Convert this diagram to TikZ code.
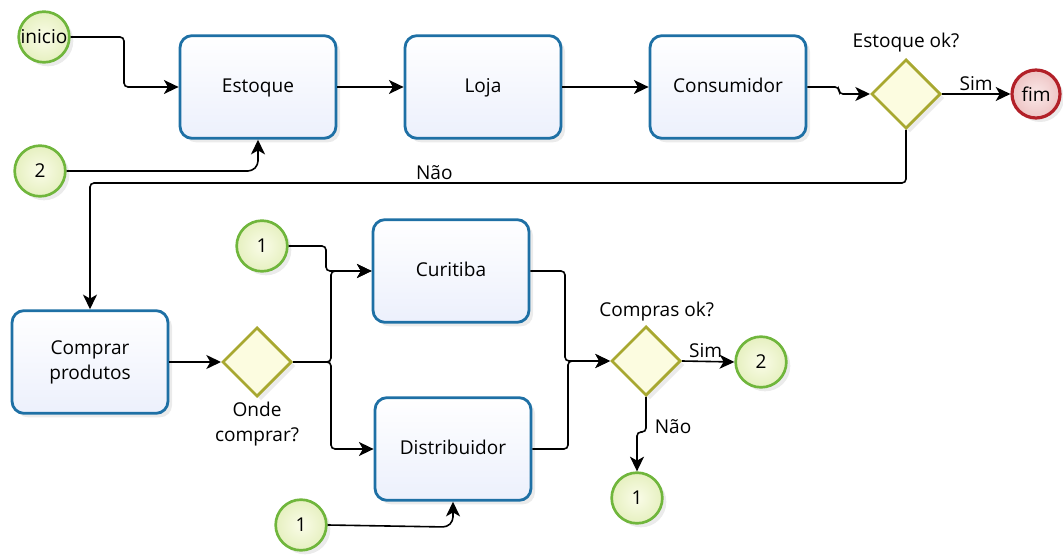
\documentclass[tikz,border=0pt]{standalone}
\usepackage{fontspec}
\setmainfont{Open Sans}
\usetikzlibrary{shapes.geometric,arrows.meta,shadows}
\definecolor{taskline}{RGB}{30,112,165}
\definecolor{taskfill}{RGB}{236,240,252}
\definecolor{evline}{RGB}{112,182,60}
\definecolor{evin}{RGB}{250,252,232}
\definecolor{evout}{RGB}{230,240,192}
\definecolor{gwline}{RGB}{168,168,48}
\definecolor{gwfill}{RGB}{252,252,224}
\definecolor{endline}{RGB}{178,32,40}
\definecolor{endin}{RGB}{250,232,232}
\definecolor{endout}{RGB}{238,196,196}
\begin{document}
\begin{tikzpicture}[x=0.75pt,y=-0.75pt,
  font=\fontsize{14.3}{18.5}\selectfont,
  softshadow/.style={drop shadow={opacity=0.16, shadow xshift=3pt, shadow yshift=-3pt}},
  task/.style={rectangle, rounded corners=9pt, draw=taskline, line width=2.1pt,
    minimum width=117pt, minimum height=77pt, align=center, text depth=0.25em,
    top color=white, bottom color=taskfill, softshadow},
  event/.style={circle, draw=evline, line width=2pt, minimum size=38pt, inner sep=0pt,
    inner color=evin, outer color=evout, softshadow},
  endevent/.style={circle, draw=endline, line width=2.4pt, minimum size=36pt, inner sep=0pt,
    inner color=endin, outer color=endout, softshadow},
  gateway/.style={diamond, draw=gwline, line width=2pt, minimum size=52pt, inner sep=0pt,
    aspect=1, fill=gwfill, softshadow},
  flow/.style={draw=black, line width=1.2pt, rounded corners=3pt,
    -{Stealth[length=11pt,width=10.5pt,inset=3pt]}},
  lbl/.style={inner sep=2pt}
]
\useasboundingbox (0,0) rectangle (1063,555);

% upper row
\node[event] (inicio) at (44,37) {inicio};
\node[task] (estoque) at (258,87) {Estoque};
\node[task] (loja) at (483,87) {Loja};
\node[task] (consumidor) at (728,87) {Consumidor};
\node[gateway, label={[lbl, yshift=2pt]above:Estoque ok?}] (gwestoque) at (906,94) {};
\node[endevent] (fim) at (1036,94) {fim};
\node[event] (doisA) at (40,171) {2};

% lower part
\node[task] (comprar) at (90,362) {Comprar\\produtos};
\node[gateway, label={[lbl, align=center, yshift=-1pt]below:Onde\\comprar?}] (gwonde) at (257,362) {};
\node[event] (umA) at (262,246) {1};
\node[task] (curitiba) at (451,271) {Curitiba};
\node[task] (distribuidor) at (453,449) {Distribuidor};
\node[event] (umC) at (301,525) {1};
\node[gateway, label={[lbl, xshift=8pt, yshift=1pt]above:Compras ok?}] (gwcompras) at (646,361) {};
\node[event] (doisB) at (761,362) {2};
\node[event] (umB) at (637,498) {1};

% flows of the upper row
\draw[flow] (inicio.east) -- (124,37) -- (124,87) -- (estoque.west);
\draw[flow] (estoque) -- (loja);
\draw[flow] (loja) -- (consumidor);
\draw[flow] (consumidor.east) -- (839,87) -- (839,94) -- (gwestoque.west);
\draw[flow] (gwestoque.east) -- node[lbl, above]{Sim} (fim.west);
\draw[flow] (doisA.east) -- (252,171) -- (258,165) -- (estoque.south);
\draw[flow] (gwestoque.south) -- (906,183) -- node[lbl, pos=0.578, above]{Não} (90,183) -- (comprar.north);

% flows of the lower part
\draw[flow] (comprar) -- (gwonde);
\draw[flow] (umA.east) -- (326,246) -- (326,271) -- (curitiba.west);
\draw[flow] (gwonde.east) -- (331,362) -- (331,271) -- (curitiba.west);
\draw[flow] (gwonde.east) -- (331,362) -- (331,449) -- (distribuidor.west);
\draw[flow] (umC.east) -- (447,527) -- (453,521) -- (distribuidor.south);
\draw[flow] (curitiba.east) -- (565,271) -- (565,361) -- (gwcompras.west);
\draw[flow] (distribuidor.east) -- (568,449) -- (568,361) -- (gwcompras.west);
\draw[flow] (gwcompras.east) -- node[lbl, above, pos=0.45]{Sim} (doisB.west);
\draw[flow] (gwcompras.south) -- node[lbl, right, pos=0.85, xshift=4pt]{Não} (646,432) -- (637,432) -- (umB.north);
\end{tikzpicture}
\end{document}
